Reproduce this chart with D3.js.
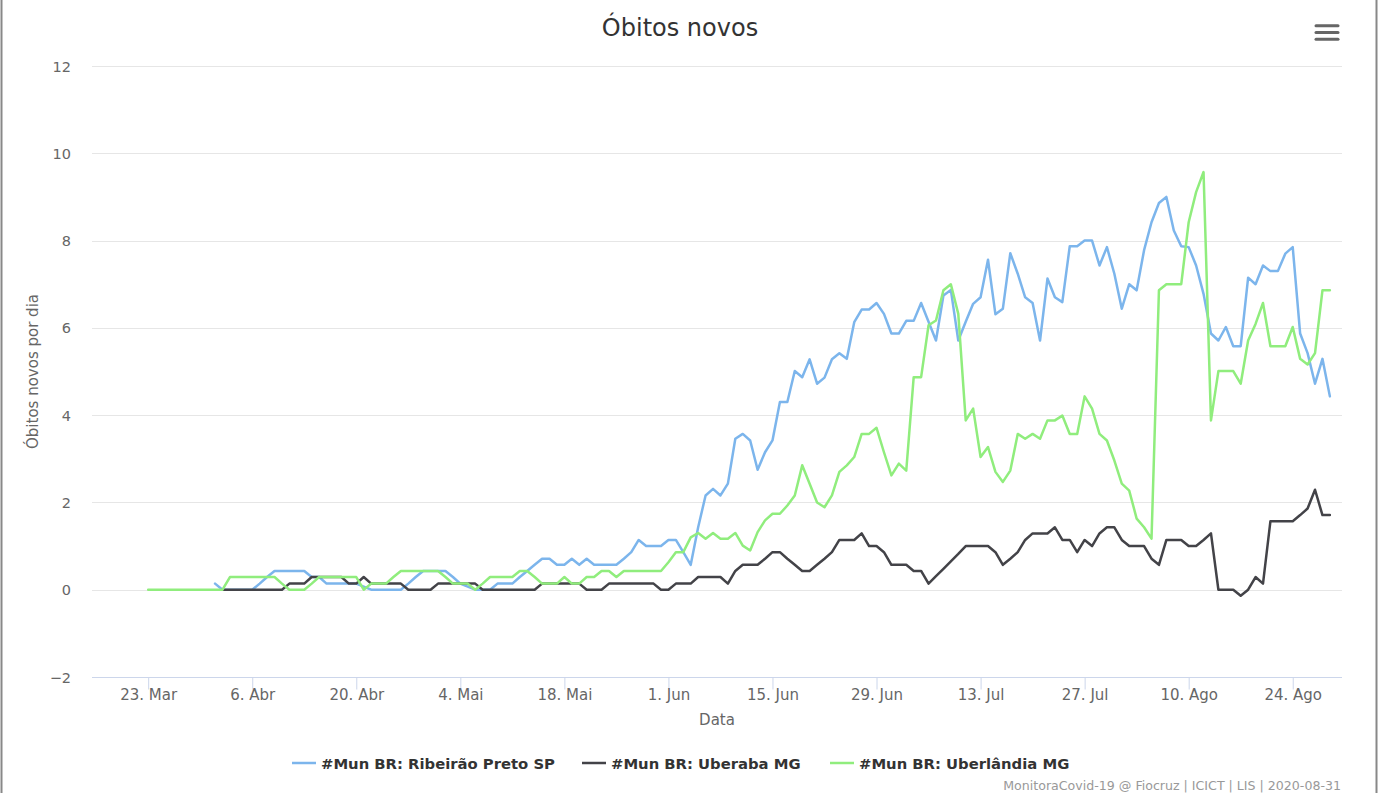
<!DOCTYPE html>
<html>
<head>
<meta charset="utf-8">
<script src="https://cdn.jsdelivr.net/npm/d3@7"></script>
<style>
  html, body { margin: 0; padding: 0; background: #fff; }
  svg { display: block; font-family: "DejaVu Sans", sans-serif; }
</style>
</head>
<body>
<svg id="chart" width="1387" height="793"></svg>
<script>
// ---------- DATA ----------
const startDate = "2020-03-23"; // first day of the daily series
const seriesNames = ["#Mun BR: Ribeirão Preto SP", "#Mun BR: Uberaba MG", "#Mun BR: Uberlândia MG"];
const seriesColors = ["#7cb5ec", "#434348", "#90ed7d"];

const ribeiraoPreto = [
  null,null,null,null,null,null,null,null,null,
  0.14,0,0,0,0,0,0.14,0.29,0.43,0.43,0.43,
  0.43,0.43,0.29,0.29,0.14,0.14,0.14,0.14,0.14,0.07,
  0,0,0,0,0,0.14,0.29,0.43,0.43,0.43,
  0.43,0.29,0.14,0.07,0,0,0,0.14,0.14,0.14,
  0.29,0.43,0.57,0.71,0.71,0.57,0.57,0.71,0.57,0.71,
  0.57,0.57,0.57,0.57,0.71,0.86,1.14,1.0,1.0,1.0,
  1.14,1.14,0.86,0.57,1.43,2.16,2.31,2.16,2.43,3.46,
  3.57,3.42,2.75,3.15,3.42,4.3,4.3,5.01,4.87,5.28,
  4.72,4.86,5.28,5.42,5.29,6.13,6.42,6.42,6.57,6.32,
  5.87,5.87,6.16,6.16,6.57,6.14,5.71,6.74,6.87,5.71,
  6.14,6.55,6.7,7.56,6.31,6.44,7.71,7.24,6.7,6.57,
  5.71,7.13,6.7,6.59,7.87,7.87,8.0,8.0,7.43,7.85,
  7.24,6.44,7.0,6.86,7.78,8.42,8.86,9.0,8.23,7.87,
  7.85,7.43,6.78,5.87,5.71,6.02,5.58,5.58,7.15,7.0,
  7.43,7.3,7.3,7.7,7.85,5.87,5.42,4.72,5.29,4.43
];

const uberaba = [
  null,null,null,null,null,null,null,null,null,null,
  0,0,0,0,0,0,0,0,0,0.14,
  0.14,0.14,0.29,0.29,0.29,0.29,0.29,0.14,0.14,0.29,
  0.14,0.14,0.14,0.14,0.14,0,0,0,0,0.14,
  0.14,0.14,0.14,0.14,0.14,0,0,0,0,0,
  0,0,0,0.14,0.14,0.14,0.14,0.14,0.14,0,
  0,0,0.14,0.14,0.14,0.14,0.14,0.14,0.14,0,
  0,0.14,0.14,0.14,0.29,0.29,0.29,0.29,0.14,0.43,
  0.57,0.57,0.57,0.71,0.86,0.86,0.71,0.57,0.43,0.43,
  0.57,0.71,0.86,1.14,1.14,1.14,1.29,1.0,1.0,0.86,
  0.57,0.57,0.57,0.43,0.43,0.14,0.31,0.48,0.65,0.82,
  1.0,1.0,1.0,1.0,0.86,0.57,0.71,0.86,1.14,1.29,
  1.29,1.29,1.43,1.14,1.14,0.86,1.14,1.0,1.29,1.43,
  1.43,1.14,1.0,1.0,1.0,0.71,0.57,1.14,1.14,1.14,
  1.0,1.0,1.14,1.29,0,0,0,-0.14,0,0.29,
  0.14,1.57,1.57,1.57,1.57,1.71,1.86,2.29,1.71,1.71
];

const uberlandia = [
  0,0,0,0,0,0,0,0,0,0,
  0,0.29,0.29,0.29,0.29,0.29,0.29,0.29,0.14,0,
  0,0,0.14,0.29,0.29,0.29,0.29,0.29,0.29,0,
  0.14,0.14,0.14,0.29,0.43,0.43,0.43,0.43,0.43,0.43,
  0.29,0.14,0.14,0.14,0,0.14,0.29,0.29,0.29,0.29,
  0.43,0.43,0.29,0.14,0.14,0.14,0.29,0.14,0.14,0.29,
  0.29,0.43,0.43,0.29,0.43,0.43,0.43,0.43,0.43,0.43,
  0.63,0.86,0.86,1.2,1.3,1.17,1.3,1.17,1.17,1.3,
  1.01,0.9,1.32,1.59,1.74,1.74,1.93,2.16,2.85,2.43,
  2.0,1.89,2.16,2.7,2.85,3.04,3.57,3.57,3.71,3.15,
  2.62,2.89,2.73,4.87,4.87,6.06,6.17,6.86,7.0,6.32,
  3.88,4.15,3.04,3.27,2.7,2.47,2.73,3.57,3.46,3.57,
  3.46,3.88,3.88,3.99,3.57,3.57,4.43,4.15,3.57,3.42,
  2.96,2.43,2.27,1.63,1.43,1.17,6.86,7.0,7.0,7.0,
  8.42,9.11,9.57,3.88,5.01,5.01,5.01,4.72,5.71,6.09,
  6.57,5.58,5.58,5.58,6.02,5.29,5.16,5.42,6.86,6.86
];

const xTickDates = ["2020-03-23","2020-04-06","2020-04-20","2020-05-04","2020-05-18","2020-06-01",
                    "2020-06-15","2020-06-29","2020-07-13","2020-07-27","2020-08-10","2020-08-24"];
const xTickLabels = ["23. Mar","6. Abr","20. Abr","4. Mai","18. Mai","1. Jun",
                     "15. Jun","29. Jun","13. Jul","27. Jul","10. Ago","24. Ago"];
const yTicks = [-2, 0, 2, 4, 6, 8, 10, 12];

const titleText = "Óbitos novos";
const yTitle = "Óbitos novos por dia";
const xTitle = "Data";
const creditText = "MonitoraCovid-19 @ Fiocruz | ICICT | LIS | 2020-08-31";

// ---------- LAYOUT ----------
const W = 1387, H = 793;
const plot = { left: 92, right: 1342, top: 66, bottom: 677 };
const parse = d3.utcParse("%Y-%m-%d");
const t0 = parse(startDate);
const dayMs = 86400000;

const x = d3.scaleUtc()
  .domain([new Date(parse("2020-03-23").getTime() - 7.56 * dayMs),
           new Date(parse("2020-08-24").getTime() + 6.63 * dayMs)])
  .range([plot.left, plot.right]);
const y = d3.scaleLinear().domain([-2, 12]).range([plot.bottom, plot.top]);

const svg = d3.select("#chart");
svg.append("rect").attr("width", W).attr("height", H).attr("fill", "#fff");

// grid lines
svg.append("g").selectAll("line").data(yTicks).join("line")
  .attr("x1", plot.left).attr("x2", plot.right)
  .attr("y1", d => Math.round(y(d)) + 0.5).attr("y2", d => Math.round(y(d)) + 0.5)
  .attr("stroke", "#e6e6e6").attr("stroke-width", 1);

// y axis labels
const yAxis = d3.axisLeft(y).tickValues(yTicks).tickSize(0).tickPadding(0);
const gy = svg.append("g").attr("transform", `translate(${71},0)`).call(yAxis);
gy.select(".domain").remove();
gy.selectAll("text").attr("font-size", 14.5).attr("fill", "#666")
  .attr("font-family", "DejaVu Sans, sans-serif").attr("dy", "0.35em").attr("x", 0);

// x axis
const xAxis = d3.axisBottom(x)
  .tickValues(xTickDates.map(parse))
  .tickFormat((d, i) => xTickLabels[i])
  .tickSizeOuter(0).tickSizeInner(12).tickPadding(6);
const gx = svg.append("g").attr("transform", `translate(0,${Math.round(y(-2)) + 0.5})`).call(xAxis);
gx.select(".domain").attr("stroke", "#ccd6eb").attr("d", `M${plot.left},0H${plot.right}`);
gx.selectAll(".tick line").attr("stroke", "#ccd6eb");
gx.selectAll(".tick text").attr("font-size", 15).attr("fill", "#666")
  .attr("font-family", "DejaVu Sans, sans-serif").attr("y", 12);

// series lines
const allSeries = [ribeiraoPreto, uberaba, uberlandia];
const line = d3.line()
  .defined(d => d.v !== null)
  .x(d => x(d.date))
  .y(d => y(d.v));
allSeries.forEach((vals, si) => {
  const pts = vals.map((v, i) => ({ date: new Date(t0.getTime() + i * dayMs), v }));
  svg.append("path").datum(pts)
    .attr("d", line)
    .attr("fill", "none")
    .attr("stroke", seriesColors[si])
    .attr("stroke-width", 2.5)
    .attr("stroke-linejoin", "round")
    .attr("stroke-linecap", "round");
});

// titles
svg.append("text").attr("x", 680).attr("y", 36).attr("text-anchor", "middle")
  .attr("font-size", 24).attr("fill", "#333").text(titleText);
svg.append("text").attr("transform", `translate(38,${(plot.top + plot.bottom) / 2}) rotate(-90)`)
  .attr("text-anchor", "middle").attr("font-size", 15).attr("fill", "#666").text(yTitle);
svg.append("text").attr("x", (plot.left + plot.right) / 2).attr("y", 725).attr("text-anchor", "middle")
  .attr("font-size", 15).attr("fill", "#666").text(xTitle);

// legend
const legendX = [292, 582, 830];
const lg = svg.append("g");
seriesNames.forEach((name, i) => {
  lg.append("line").attr("x1", legendX[i]).attr("x2", legendX[i] + 24)
    .attr("y1", 763).attr("y2", 763).attr("stroke", seriesColors[i]).attr("stroke-width", 2.5);
  lg.append("text").attr("x", legendX[i] + 29).attr("y", 768.5)
    .attr("font-size", 14.8).attr("font-weight", "bold").attr("fill", "#333").text(name);
});

// credits
svg.append("text").attr("x", 1341).attr("y", 790).attr("text-anchor", "end")
  .attr("font-size", 12.6).attr("fill", "#999").text(creditText);

// menu icon
const menu = svg.append("g");
[25.7, 32.5, 39.3].forEach(yy => {
  menu.append("line").attr("x1", 1316).attr("x2", 1338).attr("y1", yy).attr("y2", yy)
    .attr("stroke", "#666").attr("stroke-width", 3).attr("stroke-linecap", "round");
});

// frame
svg.append("line").attr("x1", 1.5).attr("x2", 1.5).attr("y1", 0).attr("y2", H).attr("stroke", "#888").attr("stroke-width", 2);
svg.append("line").attr("x1", 1376.5).attr("x2", 1376.5).attr("y1", 0).attr("y2", H).attr("stroke", "#888").attr("stroke-width", 2);
</script>
</body>
</html>
